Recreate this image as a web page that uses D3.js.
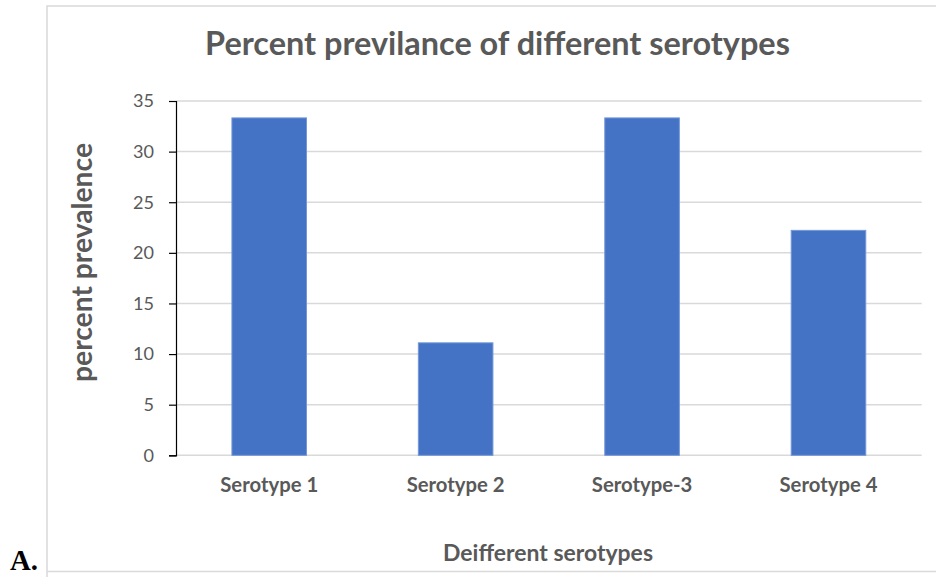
<!DOCTYPE html>
<html>
<head>
<meta charset="utf-8">
<script src="https://cdn.jsdelivr.net/npm/d3@7"></script>
<style>
  html, body { margin: 0; padding: 0; background: #fff; }
  svg { display: block; }
</style>
</head>
<body>
<svg id="chart" width="936" height="577"></svg>
<script>
// Prevalence of each serotype (percent)
const categories = ["Serotype 1", "Serotype 2", "Serotype-3", "Serotype 4"];
const prevalence = [33.33, 11.11, 33.33, 22.22];
const yTicks = [0, 5, 10, 15, 20, 25, 30, 35];

const titleText = "Percent previlance of different serotypes";
const xTitleText = "Deifferent serotypes";
const yTitleText = "percent prevalence";

const FONT = "Lato, 'Open Sans', sans-serif";
const GRAY_TEXT = "#595959";
const GRID = "#d9d9d9";

const svg = d3.select("#chart");

// plot area
const plot = { left: 176, right: 921.7, top: 101, bottom: 455.3 };

const x = d3.scaleBand()
  .domain(categories)
  .range([plot.left, plot.right])
  .paddingInner(0.6)
  .paddingOuter(0.3);

const y = d3.scaleLinear()
  .domain([0, 35])
  .range([plot.bottom, plot.top]);

// scale a text element's font size so it spans the given width
function fitWidth(sel, target) {
  const node = sel.node();
  const size = parseFloat(sel.attr("font-size"));
  const len = node.getComputedTextLength();
  sel.attr("font-size", (size * target / len).toFixed(2));
  return size * target / len;
}

// outer chart frame
svg.append("path")
  .attr("d", "M47,577 L47,6 L940,6 M47,571.5 L940,571.5")
  .attr("fill", "none")
  .attr("stroke", GRID)
  .attr("stroke-width", 1.5);

// horizontal gridlines
svg.append("g")
  .selectAll("line")
  .data(yTicks)
  .join("line")
  .attr("x1", plot.left)
  .attr("x2", plot.right)
  .attr("y1", d => y(d))
  .attr("y2", d => y(d))
  .attr("stroke", GRID)
  .attr("stroke-width", 1.5);

// bars
svg.append("g")
  .selectAll("rect")
  .data(categories.map((c, i) => ({ c, v: prevalence[i] })))
  .join("rect")
  .attr("x", d => x(d.c))
  .attr("width", x.bandwidth())
  .attr("y", d => y(d.v))
  .attr("height", d => y(0) - y(d.v))
  .attr("fill", "#4472C4")
  .attr("stroke", "#7397d9")
  .attr("stroke-width", 1);

// y axis
const yAxis = svg.append("g")
  .attr("transform", `translate(${plot.left},0)`)
  .call(d3.axisLeft(y).tickValues(yTicks).tickSize(7).tickPadding(15));
yAxis.select(".domain").attr("stroke", "#000").attr("stroke-width", 1.2);
yAxis.selectAll(".tick line").attr("stroke", "#000").attr("stroke-width", 1.2);
yAxis.selectAll(".tick text")
  .attr("font-family", FONT)
  .attr("font-size", 18)
  .attr("fill", GRAY_TEXT);
{
  const t35 = yAxis.selectAll(".tick text").filter(d => d === 35);
  const fs = fitWidth(t35, 21);
  yAxis.selectAll(".tick text").attr("font-size", fs.toFixed(2));
}

// x axis labels
const xAxis = svg.append("g")
  .attr("transform", `translate(0,${plot.bottom})`)
  .call(d3.axisBottom(x).tickSize(0));
xAxis.select(".domain").remove();
xAxis.selectAll(".tick text")
  .attr("font-family", FONT)
  .attr("font-weight", "bold")
  .attr("font-size", 18)
  .attr("fill", GRAY_TEXT)
  .attr("y", 36.4)
  .attr("dy", 0);
{
  const first = xAxis.selectAll(".tick text").filter(d => d === categories[0]);
  const fs = fitWidth(first, 98);
  xAxis.selectAll(".tick text").attr("font-size", fs.toFixed(2));
}

// chart title
const title = svg.append("text")
  .attr("x", 497.5)
  .attr("y", 55)
  .attr("text-anchor", "middle")
  .attr("font-family", FONT)
  .attr("font-weight", "bold")
  .attr("font-size", 28)
  .attr("fill", GRAY_TEXT)
  .text(titleText);
fitWidth(title, 585);

// x axis title
const xTitle = svg.append("text")
  .attr("x", 548)
  .attr("y", 561)
  .attr("text-anchor", "middle")
  .attr("font-family", FONT)
  .attr("font-weight", "bold")
  .attr("font-size", 20)
  .attr("fill", GRAY_TEXT)
  .text(xTitleText);
fitWidth(xTitle, 210);

// y axis title
const yTitle = svg.append("text")
  .attr("transform", "translate(92,262.5) rotate(-90)")
  .attr("text-anchor", "middle")
  .attr("font-family", FONT)
  .attr("font-weight", "bold")
  .attr("font-size", 22)
  .attr("fill", GRAY_TEXT)
  .text(yTitleText);
fitWidth(yTitle, 239);

// panel letter
const panel = svg.append("text")
  .attr("x", 10)
  .attr("y", 570)
  .attr("font-family", "'Liberation Serif', 'Times New Roman', serif")
  .attr("font-weight", "bold")
  .attr("font-size", 30)
  .attr("fill", "#000")
  .text("A.");
fitWidth(panel, 28);
</script>
</body>
</html>
